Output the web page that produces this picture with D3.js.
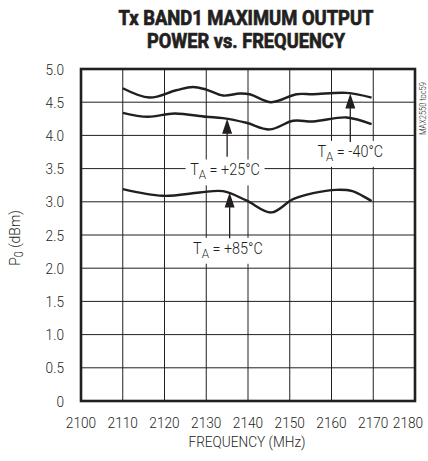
<!DOCTYPE html>
<html><head><meta charset="utf-8">
<script src="https://cdn.jsdelivr.net/npm/d3@7"></script>
<style>
body{margin:0;background:#fff;}
text{font-family:Roboto,"Liberation Sans",Arial,sans-serif;fill:#231f20;}
</style></head>
<body><svg id="c" width="428" height="461"></svg>
<script>
const xTicks = [2100,2110,2120,2130,2140,2150,2160,2170,2180];
const yTicks = [0,0.5,1.0,1.5,2.0,2.5,3.0,3.5,4.0,4.5,5.0];
const freqM40 = [2110,2116.4,2122.8,2126.8,2130,2134,2138,2140.4,2145.6,2151.6,2155.6,2163.6,2169.6];
const pM40    = [4.71,4.57,4.68,4.73,4.69,4.60,4.63,4.62,4.50,4.62,4.62,4.64,4.57];
const freq25  = [2110,2116,2122.4,2130,2134,2139.6,2145.2,2150.8,2155.6,2163.6,2169.6];
const p25     = [4.34,4.28,4.33,4.28,4.26,4.19,4.09,4.22,4.21,4.27,4.17];
const freq85  = [2110,2119.6,2128.4,2134,2139.6,2145.6,2150.8,2155.6,2161.2,2165,2169.6];
const p85     = [3.19,3.09,3.14,3.16,3.02,2.84,3.04,3.13,3.18,3.16,3.01];
const labels = [
  {name:"-40", text:"-40°C", arrowF:2164.5, tipP:4.63, tailP:3.9, labelF:2164.5, labelP:3.68},
  {name:"+25", text:"+25°C", arrowF:2135, tipP:4.25, tailP:3.68, labelF:2134.5, labelP:3.40},
  {name:"+85", text:"+85°C", arrowF:2135.6, tipP:3.14, tailP:2.45, labelF:2135.2, labelP:2.22}
];

const svg = d3.select("#c");
const L=81, R=415, T=69, B=401;
const x = d3.scaleLinear().domain([2100,2180]).range([L,R]);
const y = d3.scaleLinear().domain([0,5]).range([B,T]);
function condense(sel,k){ sel.each(function(){ const w=this.getComputedTextLength(); d3.select(this).attr("textLength",w*k).attr("lengthAdjust","spacingAndGlyphs"); }); }

// grid
svg.append("g").selectAll("line").data(xTicks.slice(1,-1)).join("line")
  .attr("x1",d=>x(d)).attr("x2",d=>x(d)).attr("y1",T).attr("y2",B)
  .attr("stroke","#231f20").attr("stroke-width",1);
svg.append("g").selectAll("line").data(yTicks.slice(1,-1)).join("line")
  .attr("x1",L).attr("x2",R).attr("y1",d=>y(d)).attr("y2",d=>y(d))
  .attr("stroke","#231f20").attr("stroke-width",1);

// label boxes + text
const lg = svg.append("g");
labels.forEach(l=>{
  const g = lg.append("g").attr("transform",`translate(${x(l.labelF)},${y(l.labelP)}) scale(0.9,1)`);
  const t = g.append("text").attr("x",0).attr("y",0)
    .attr("text-anchor","middle").attr("font-size",16).attr("font-weight",300);
  t.append("tspan").text("T");
  t.append("tspan").text("A").attr("font-size",13).attr("dy",4);
  t.append("tspan").text(" = "+l.text).attr("dy",-4);
  const bb = t.node().getBBox();
  g.insert("rect","text").attr("x",bb.x-5).attr("y",bb.y-1).attr("width",bb.width+10).attr("height",bb.height+4).attr("fill","#fff");
});

// curves
const line = d3.line().x(d=>x(d[0])).y(d=>y(d[1])).curve(d3.curveCatmullRom.alpha(0.5));
[[freqM40,pM40],[freq25,p25],[freq85,p85]].forEach(([f,p])=>{
  svg.append("path").datum(f.map((v,i)=>[v,p[i]])).attr("d",line)
    .attr("fill","none").attr("stroke","#231f20").attr("stroke-width",2.4);
});

// arrows
labels.forEach(l=>{
  const ax = x(l.arrowF), ty = y(l.tipP), by = y(l.tailP);
  svg.append("line").attr("x1",ax).attr("x2",ax).attr("y1",ty+10).attr("y2",by)
    .attr("stroke","#231f20").attr("stroke-width",1.3);
  svg.append("path").attr("d",`M${ax},${ty} L${ax-5},${ty+15} L${ax+5},${ty+15} Z`).attr("fill","#231f20");
});

// frame
svg.append("rect").attr("x",L).attr("y",T).attr("width",R-L).attr("height",B-T)
  .attr("fill","none").attr("stroke","#231f20").attr("stroke-width",2.6);

// axes labels
svg.append("g").selectAll("text").data(xTicks).join("text")
  .attr("x",d=>Math.min(x(d),408)).attr("y",428).attr("text-anchor","middle")
  .attr("font-size",15.5).attr("font-weight",300).text(d=>d).call(condense,0.88);
svg.append("g").selectAll("text").data(yTicks).join("text")
  .attr("x",64).attr("y",d=>y(d)+5.5).attr("text-anchor","end")
  .attr("font-size",15.5).attr("font-weight",300).text(d=>d===0?"0":d.toFixed(1)).call(condense,0.88);

svg.append("text").attr("x",247).attr("y",447).attr("text-anchor","middle")
  .attr("font-size",15.5).attr("font-weight",300).text("FREQUENCY (MHz)").call(condense,0.88);

const yl = svg.append("text").attr("transform","translate(20,238) rotate(-90) scale(0.9,1)")
  .attr("text-anchor","middle").attr("font-size",15.5).attr("font-weight",300);
yl.append("tspan").text("P");
yl.append("tspan").text("0").attr("font-size",12).attr("dy",3);
yl.append("tspan").text(" (dBm)").attr("dy",-3);

svg.append("text").attr("transform","translate(426,135) rotate(-90)")
  .attr("font-size",8.5).attr("font-weight",300).text("MAX2550 toc59").call(condense,0.88);

// title
const tg = svg.append("g").attr("font-weight",700).attr("font-size",20)
  .attr("stroke","#231f20").attr("stroke-width",0.7);
tg.append("text").attr("x",246).attr("y",25).attr("text-anchor","middle")
  .attr("textLength",255).attr("lengthAdjust","spacingAndGlyphs").text("Tx BAND1 MAXIMUM OUTPUT");
tg.append("text").attr("x",246).attr("y",48).attr("text-anchor","middle")
  .attr("textLength",198).attr("lengthAdjust","spacingAndGlyphs").text("POWER vs. FREQUENCY");
</script></body></html>
